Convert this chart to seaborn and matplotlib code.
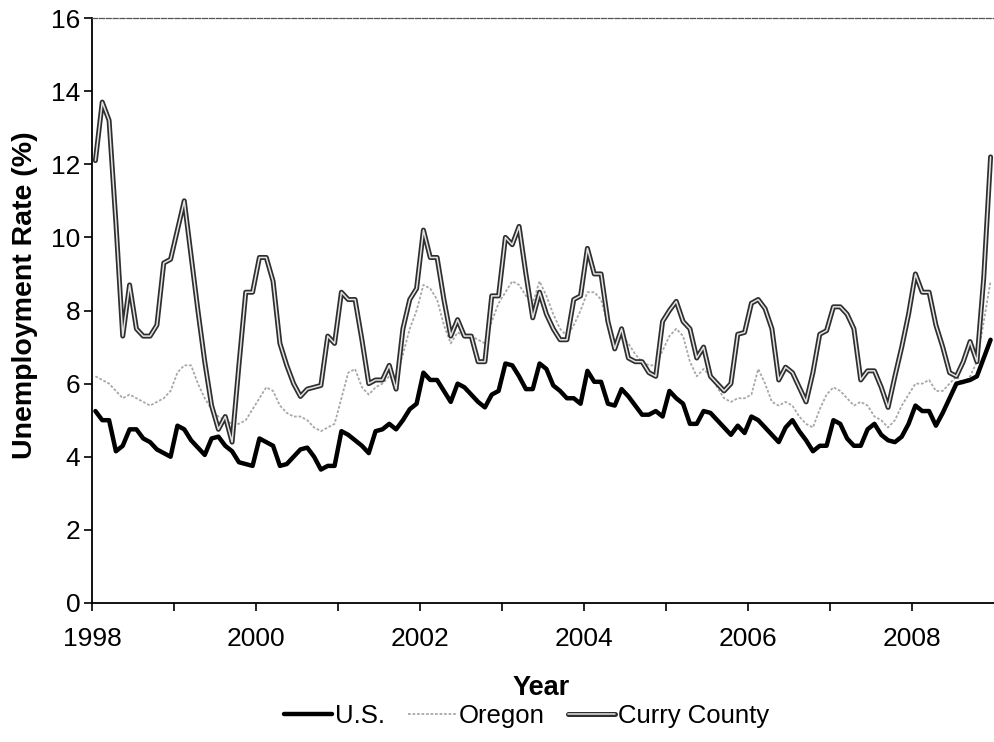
import matplotlib
matplotlib.use("Agg")
import matplotlib.pyplot as plt
import matplotlib.patheffects as pe
import numpy as np
import pandas as pd
import seaborn as sns

# Monthly unemployment rates (%), January 1998 through December 2008, not seasonally adjusted
us = [
    5.25, 5.0, 5.0, 4.15, 4.3, 4.75, 4.75, 4.5, 4.4, 4.2, 4.1, 4.0,      # 1998
    4.85, 4.75, 4.45, 4.25, 4.05, 4.5, 4.55, 4.3, 4.15, 3.85, 3.8, 3.75,  # 1999
    4.5, 4.4, 4.3, 3.75, 3.8, 4.0, 4.2, 4.25, 4.0, 3.65, 3.75, 3.75,      # 2000
    4.7, 4.6, 4.45, 4.3, 4.1, 4.7, 4.75, 4.9, 4.75, 5.0, 5.3, 5.45,       # 2001
    6.3, 6.1, 6.1, 5.8, 5.5, 6.0, 5.9, 5.7, 5.5, 5.35, 5.7, 5.8,          # 2002
    6.55, 6.5, 6.2, 5.85, 5.85, 6.55, 6.4, 5.95, 5.8, 5.6, 5.6, 5.45,     # 2003
    6.35, 6.05, 6.05, 5.45, 5.4, 5.85, 5.65, 5.4, 5.15, 5.15, 5.25, 5.1,  # 2004
    5.8, 5.6, 5.45, 4.9, 4.9, 5.25, 5.2, 5.0, 4.8, 4.6, 4.85, 4.65,       # 2005
    5.1, 5.0, 4.8, 4.6, 4.4, 4.8, 5.0, 4.7, 4.45, 4.15, 4.3, 4.3,         # 2006
    5.0, 4.9, 4.5, 4.3, 4.3, 4.75, 4.9, 4.6, 4.45, 4.4, 4.55, 4.9,        # 2007
    5.4, 5.25, 5.25, 4.85, 5.2, 5.6, 6.0, 6.05, 6.1, 6.2, 6.7, 7.2,       # 2008
]

oregon = [
    6.2, 6.1, 6.0, 5.8, 5.6, 5.7, 5.6, 5.5, 5.4, 5.5, 5.6, 5.8,   # 1998
    6.3, 6.5, 6.5, 6.0, 5.6, 5.3, 5.1, 5.0, 4.9, 4.9, 5.0, 5.3,   # 1999
    5.6, 5.9, 5.8, 5.4, 5.2, 5.1, 5.1, 5.0, 4.8, 4.7, 4.8, 4.9,   # 2000
    5.6, 6.3, 6.4, 5.9, 5.7, 5.9, 6.0, 6.2, 6.2, 6.8, 7.5, 8.0,   # 2001
    8.7, 8.6, 8.3, 7.6, 7.1, 7.4, 7.3, 7.3, 7.2, 7.1, 7.7, 8.2,   # 2002
    8.5, 8.8, 8.7, 8.4, 8.2, 8.8, 8.4, 7.9, 7.5, 7.3, 7.6, 8.0,   # 2003
    8.5, 8.5, 8.3, 7.6, 7.0, 7.3, 7.1, 6.8, 6.6, 6.5, 6.5, 6.9,   # 2004
    7.3, 7.5, 7.3, 6.6, 6.2, 6.4, 6.2, 5.9, 5.6, 5.5, 5.6, 5.6,   # 2005
    5.7, 6.4, 6.0, 5.5, 5.4, 5.5, 5.4, 5.1, 4.9, 4.8, 5.3, 5.7,   # 2006
    5.9, 5.8, 5.6, 5.4, 5.5, 5.4, 5.1, 5.0, 4.8, 5.0, 5.4, 5.7,   # 2007
    6.0, 6.0, 6.1, 5.8, 5.8, 6.0, 6.2, 6.0, 6.2, 6.6, 7.7, 8.8,   # 2008
]

curry = [
    12.1, 13.7, 13.2, 10.4, 7.3, 8.7, 7.5, 7.3, 7.3, 7.6, 9.3, 9.4,    # 1998
    10.2, 11.0, 9.5, 8.0, 6.6, 5.4, 4.75, 5.1, 4.4, 6.5, 8.5, 8.5,     # 1999
    9.45, 9.45, 8.8, 7.1, 6.5, 6.0, 5.65, 5.85, 5.9, 5.95, 7.3, 7.1,   # 2000
    8.5, 8.3, 8.3, 7.2, 6.0, 6.1, 6.1, 6.5, 5.85, 7.5, 8.3, 8.6,       # 2001
    10.2, 9.45, 9.45, 8.3, 7.3, 7.75, 7.3, 7.3, 6.6, 6.6, 8.4, 8.4,    # 2002
    10.0, 9.8, 10.3, 9.0, 7.8, 8.5, 7.9, 7.5, 7.2, 7.2, 8.3, 8.4,      # 2003
    9.7, 9.0, 9.0, 7.7, 6.95, 7.5, 6.7, 6.6, 6.6, 6.3, 6.2, 7.7,       # 2004
    8.0, 8.25, 7.7, 7.5, 6.7, 7.0, 6.2, 6.0, 5.8, 6.0, 7.35, 7.4,      # 2005
    8.2, 8.3, 8.05, 7.5, 6.1, 6.45, 6.3, 5.9, 5.5, 6.3, 7.35, 7.45,    # 2006
    8.1, 8.1, 7.9, 7.5, 6.1, 6.35, 6.35, 5.9, 5.35, 6.2, 7.0, 7.9,     # 2007
    9.0, 8.5, 8.5, 7.6, 7.0, 6.3, 6.2, 6.6, 7.15, 6.6, 8.9, 12.2,      # 2008
]

series_names = ["U.S.", "Oregon", "Curry County"]
year_ticks = list(range(1998, 2009))
year_labels = [str(y) if y % 2 == 0 else "" for y in year_ticks]
y_ticks = list(range(0, 17, 2))

# Each month is plotted at the middle of its slot on a decimal-year axis
month_index = np.arange(len(us))
decimal_year = 1998 + (month_index + 0.5) / 12

df = pd.DataFrame({"Year": decimal_year, "U.S.": us, "Oregon": oregon, "Curry County": curry})

sns.set_style("ticks")
plt.rcParams["font.family"] = ["Liberation Sans", "DejaVu Sans"]
plt.rcParams["text.color"] = "black"
plt.rcParams["xtick.labelcolor"] = "black"
plt.rcParams["ytick.labelcolor"] = "black"

fig = plt.figure(figsize=(9.95, 7.42), dpi=100)
ax = fig.add_axes([92 / 995, (742 - 603) / 742, 902 / 995, 585 / 742])

sns.lineplot(data=df, x="Year", y="U.S.", ax=ax, color="black", linewidth=3.2,
             label=series_names[0], zorder=4)
sns.lineplot(data=df, x="Year", y="Oregon", ax=ax, color="#a8a8a8", linewidth=1.3,
             linestyle=(0, (1.5, 1.0)), label=series_names[1], zorder=2)
sns.lineplot(data=df, x="Year", y="Curry County", ax=ax, color="#e4e4e4",
             linewidth=1.1, label=series_names[2], zorder=3)
curry_line = ax.get_lines()[-1]
curry_line.set_path_effects([pe.Stroke(linewidth=3.6, foreground="#2e2e2e"), pe.Normal()])

ax.set_xlim(1998, 2009)
ax.set_ylim(0, 16)
ax.set_xticks(year_ticks)
ax.set_xticklabels(year_labels)
ax.set_yticks(y_ticks)
ax.set_xlabel("")
ax.set_ylabel("")
ax.tick_params(axis="both", labelsize=19, length=6, width=1.2, color="black",
               labelcolor="black", direction="out")
ax.tick_params(axis="x", pad=11)
ax.tick_params(axis="y", pad=2.5)

for side in ("left", "bottom"):
    ax.spines[side].set_color("black")
    ax.spines[side].set_linewidth(1.3)
ax.spines["right"].set_visible(False)
ax.spines["top"].set_visible(True)
ax.spines["top"].set_color("#555555")
ax.spines["top"].set_linewidth(0.9)
ax.spines["top"].set_linestyle((0, (4, 1.5)))

handles, labels = ax.get_legend_handles_labels()
ax.get_legend().remove()

fig.text(25 / 995, 1 - 295 / 742, "Unemployment Rate (%)", rotation=90,
         ha="center", va="center", fontsize=20.5, fontweight="bold")
fig.text(541 / 995, 1 - 688 / 742, "Year", ha="center", va="center",
         fontsize=19.5, fontweight="bold")
fig.legend(handles, labels, loc="center", bbox_to_anchor=(527 / 995, 1 - 716 / 742),
           ncol=3, frameon=False, fontsize=18.5, handlelength=1.85,
           handletextpad=0.12, columnspacing=0.9)

fig.savefig("out.png", dpi=100)
